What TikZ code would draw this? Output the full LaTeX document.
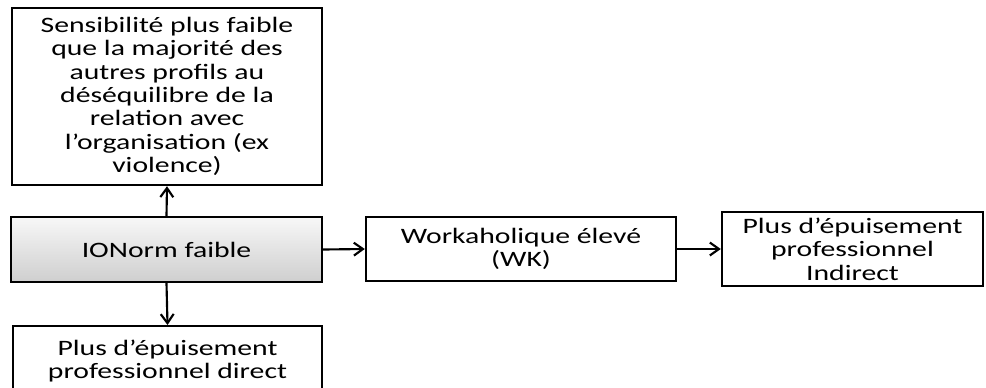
\documentclass[tikz,border=0pt]{standalone}
\usepackage{fontspec}
\setmainfont{Carlito}[FakeStretch=1.35]
\usetikzlibrary{arrows.meta, positioning}

\begin{document}
\begin{tikzpicture}[
  x=0.75pt, y=-0.75pt,
  font=\fontsize{16.5}{17.5}\selectfont,
  boite/.style={
    draw=black, line width=1.8pt, fill=white,
    align=center, inner sep=2pt
  },
  cle/.style={
    boite, top color=gray!6, bottom color=gray!38
  },
  fleche/.style={
    -{Straight Barb[length=2.4mm, width=3.4mm]},
    draw=black, line width=1.6pt
  }
]
\clip (0,0) rectangle (986,387);

% ----- boites -----
\node[boite, minimum width=310*0.75pt, minimum height=177*0.75pt] (sensib) at (167, 96.5)
  {Sensibilité plus faible\\que la majorité des\\autres profils au\\déséquilibre de la\\relation avec\\l’organisation (ex\\violence)};
\node[cle, minimum width=311*0.75pt, minimum height=65*0.75pt] (ionorm) at (166.5, 249.5) {IONorm faible};
\node[boite, minimum width=309*0.75pt, inner ysep=10pt, anchor=north] (direct) at (167.5, 325)
  {Plus d’épuisement\\professionnel direct\\ \\ };
\node[boite, minimum width=310*0.75pt, minimum height=64*0.75pt] (wk) at (521, 249) {Workaholique élevé\\(WK)};
\node[boite, minimum width=261*0.75pt, minimum height=74*0.75pt] (indirect) at (852.5, 249)
  {Plus d’épuisement\\professionnel\\Indirect};

% ----- fleches -----
\draw[fleche] (ionorm.north) -- (sensib.south);
\draw[fleche] (ionorm.south) -- (direct.north);
\draw[fleche] (ionorm.east) -- (wk.west);
\draw[fleche] (wk.east) -- (indirect.west);

\end{tikzpicture}
\end{document}
